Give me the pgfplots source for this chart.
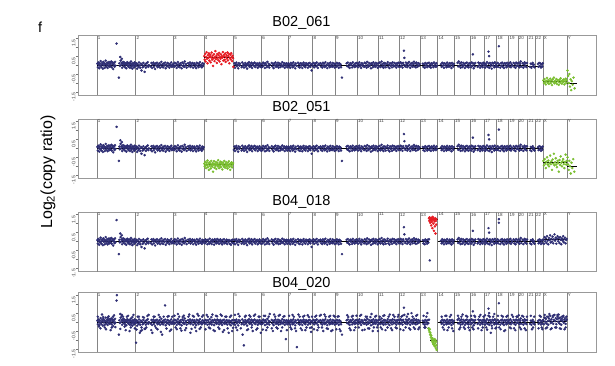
\documentclass[border=0pt]{standalone}
\usepackage{fontspec}
\setmainfont{Liberation Sans}
\usepackage{pgfplots}
\usepackage{pgfplotstable}
\pgfplotsset{compat=1.18}
\definecolor{navy}{RGB}{46,46,116}
\definecolor{cred}{RGB}{230,28,36}
\definecolor{cgreen}{RGB}{122,190,48}

% autosomes (except chr4 and the end of chr13), shared probe profile
\pgfplotstableread[row sep=\\]{
x y\\
2 0.08\\ 5 -0.12\\ 8 0.15\\ 11 0.02\\ 14 -0.18\\ 17 0.1\\ 20 -0.05\\ 23 0.22\\ 26 0.0\\ 29 -0.12\\ 32 0.12\\ 35 0.05\\ 38 -0.2\\ 41 0.18\\ 44 -0.02\\ 47 0.1\\ 50 -0.15\\ 53 0.06\\ 56 0.25\\ 59 -0.08\\ 62 0.03\\ 65 0.14\\ 68 -0.16\\ 71 0.09\\ 74 -0.04\\ 77 0.17\\ 80 -0.1\\ 83 0.04\\ 86 0.12\\ 89 -0.07\\ 92 0.2\\ 95 -0.12\\ 98 0.06\\ 101 0.15\\ 104 -0.22\\ 107 0.01\\ 110 0.11\\ 113 -0.09\\ 116 0.18\\ 119 -0.03\\
126 1.2\\ 141 -0.7\\
144 0.1\\ 147 -0.05\\ 150 0.45\\ 152 0.25\\ 155 0.0\\ 158 0.12\\ 160 0.35\\ 162 -0.15\\ 165 0.08\\ 168 0.18\\ 171 -0.06\\ 174 0.04\\ 177 0.14\\ 180 -0.12\\ 183 0.02\\ 186 0.1\\ 189 -0.18\\ 192 0.06\\ 195 0.16\\ 198 -0.04\\ 201 0.08\\ 204 -0.1\\ 207 0.13\\ 210 0.0\\ 213 -0.15\\ 216 0.09\\ 219 0.2\\ 222 -0.08\\ 225 0.03\\ 228 -0.2\\ 231 0.11\\ 234 -0.03\\ 237 0.07\\ 240 -0.13\\ 243 0.15\\ 246 -0.06\\ 248 0.02\\
251 -0.05\\ 255 0.1\\ 259 -0.2\\ 263 0.04\\ 267 -0.1\\ 271 0.15\\ 275 -0.02\\ 279 -0.15\\ 283 0.08\\ 287 -0.3\\ 291 0.02\\ 295 -0.12\\ 299 0.12\\ 303 -0.06\\ 307 -0.38\\ 311 0.05\\ 315 -0.14\\ 319 0.1\\ 323 -0.04\\ 327 0.16\\ 331 -0.1\\ 335 0.0\\
347 -0.08\\ 351 0.12\\ 355 -0.16\\ 359 0.03\\ 363 0.14\\ 367 -0.1\\ 371 0.06\\ 375 -0.22\\ 379 0.09\\ 383 -0.03\\ 387 0.13\\ 391 -0.12\\ 395 0.04\\ 399 -0.07\\ 403 0.11\\ 407 -0.15\\ 411 0.02\\ 415 0.18\\ 419 -0.09\\ 423 0.05\\ 427 -0.13\\ 431 0.1\\ 435 -0.02\\ 439 0.14\\ 443 -0.18\\ 447 0.03\\ 451 -0.08\\ 455 0.12\\ 459 -0.05\\ 463 0.08\\ 467 -0.14\\ 471 0.06\\ 475 -0.03\\ 479 0.15\\ 483 -0.1\\ 487 0.02\\ 490 -0.06\\
494 0.06\\ 498 -0.1\\ 502 0.13\\ 506 -0.04\\ 510 0.09\\ 514 -0.16\\ 518 0.02\\ 522 0.17\\ 526 -0.08\\ 530 0.05\\ 534 -0.12\\ 538 0.1\\ 542 0.0\\ 546 -0.18\\ 550 0.14\\ 554 -0.05\\ 558 0.08\\ 562 -0.1\\ 566 0.2\\ 570 -0.02\\ 574 0.06\\ 578 -0.14\\
588 0.11\\ 592 -0.07\\ 596 0.03\\ 600 0.15\\ 604 -0.11\\ 608 0.07\\ 612 -0.03\\ 616 0.12\\ 620 -0.15\\ 624 0.05\\ 628 0.1\\ 632 -0.08\\ 636 0.02\\ 640 -0.17\\ 644 0.13\\ 648 -0.04\\ 652 0.09\\ 656 -0.12\\ 660 0.04\\ 664 0.16\\ 668 -0.06\\ 672 0.01\\ 676 -0.13\\ 680 0.1\\ 684 -0.05\\ 688 0.07\\
883 -0.08\\ 887 0.1\\ 891 -0.15\\ 895 0.04\\ 899 0.14\\ 903 -0.06\\ 907 0.02\\ 911 -0.18\\ 915 0.11\\ 919 -0.03\\ 923 0.07\\
933 -0.12\\ 937 0.15\\ 941 -0.05\\ 945 0.06\\ 949 -0.14\\ 953 0.0\\ 957 0.12\\ 961 -0.09\\ 965 0.03\\ 969 -0.2\\ 973 0.1\\ 977 -0.02\\ 981 0.16\\ 985 -0.1\\ 989 0.05\\ 993 -0.07\\ 997 0.13\\ 1001 -0.16\\ 1005 0.02\\ 1009 0.09\\ 1013 -0.04\\ 1017 0.14\\ 1021 -0.11\\ 1025 0.06\\ 1029 -0.01\\ 1033 0.1\\ 1037 -0.15\\ 1041 0.04\\ 1045 -0.06\\ 1049 0.12\\ 1053 -0.09\\ 1057 0.03\\ 1060 -0.13\\
1064 0.05\\ 1068 -0.1\\ 1072 0.14\\ 1076 -0.03\\ 1080 0.08\\ 1084 -0.16\\ 1088 0.11\\ 1092 0.0\\ 1096 -0.12\\ 1100 0.18\\ 1104 -0.05\\ 1108 0.07\\ 1112 -0.14\\ 1116 0.03\\
1128 0.12\\ 1132 -0.08\\ 1136 0.05\\ 1140 -0.17\\ 1144 0.1\\ 1148 -0.02\\ 1152 0.15\\ 1156 -0.1\\ 1160 0.04\\ 1164 -0.06\\ 1168 0.13\\ 1172 -0.14\\ 1176 0.02\\ 1180 0.09\\ 1184 -0.11\\ 1188 0.06\\ 1192 -0.03\\ 1196 0.16\\ 1200 -0.08\\ 1204 0.01\\ 1208 0.11\\ 1212 -0.15\\ 1216 0.07\\ 1220 -0.04\\ 1224 0.1\\ 1228 -0.12\\ 1231 0.03\\
1235 0.1\\ 1239 -0.08\\ 1243 0.04\\ 1247 -0.15\\ 1251 0.12\\ 1255 -0.02\\ 1259 0.07\\ 1263 -0.12\\ 1267 0.15\\ 1271 -0.05\\ 1275 0.02\\ 1279 -0.18\\ 1283 0.09\\ 1287 -0.04\\
1297 0.13\\ 1301 -0.1\\ 1305 0.05\\ 1309 -0.14\\ 1313 0.1\\ 1317 -0.03\\ 1321 0.08\\ 1325 -0.16\\ 1329 0.02\\ 1333 0.14\\ 1337 -0.07\\ 1341 0.04\\ 1345 -0.12\\ 1349 0.11\\ 1353 -0.01\\ 1357 0.06\\ 1361 -0.15\\ 1365 0.09\\ 1369 -0.06\\ 1373 0.12\\ 1377 -0.1\\ 1381 0.03\\ 1385 -0.3\\ 1389 0.07\\
1394 -0.05\\ 1398 0.12\\ 1402 -0.13\\ 1406 0.04\\ 1410 0.09\\ 1414 -0.08\\ 1418 0.15\\ 1422 -0.02\\ 1426 -0.16\\ 1430 0.07\\ 1434 0.01\\
1442 0.11\\ 1446 -0.09\\ 1450 0.05\\ 1454 -0.14\\ 1458 0.13\\ 1462 -0.04\\ 1466 0.08\\ 1470 -0.11\\ 1474 0.16\\ 1478 -0.06\\ 1482 0.02\\ 1486 -0.17\\ 1490 0.1\\ 1494 -0.03\\ 1498 0.06\\ 1502 -0.12\\ 1506 0.14\\ 1510 -0.07\\ 1514 0.03\\ 1518 -0.1\\ 1522 0.12\\ 1526 -0.05\\ 1530 0.08\\ 1534 -0.14\\ 1537 0.04\\
1540 0.06\\ 1544 -0.1\\ 1548 0.13\\ 1552 -0.04\\ 1556 0.08\\ 1560 -0.15\\ 1564 0.1\\ 1568 -0.02\\ 1572 0.05\\ 1575 -0.12\\ 1581 -0.7\\
1611 0.1\\ 1615 -0.06\\ 1619 0.14\\ 1623 -0.1\\ 1627 0.03\\ 1631 -0.16\\ 1635 0.11\\ 1639 -0.01\\ 1643 0.07\\ 1647 -0.13\\ 1651 0.15\\ 1655 -0.05\\ 1659 0.02\\ 1663 -0.11\\ 1667 0.09\\ 1671 -0.07\\ 1675 0.12\\ 1678 -0.03\\
1681 0.08\\ 1685 -0.12\\ 1689 0.04\\ 1693 0.15\\ 1697 -0.07\\ 1701 0.02\\ 1705 -0.16\\ 1709 0.11\\ 1713 -0.03\\ 1716 0.06\\
1724 -0.1\\ 1728 0.13\\ 1732 -0.05\\ 1736 0.09\\ 1740 -0.14\\ 1744 0.18\\ 1748 0.0\\ 1752 -0.09\\ 1756 0.12\\ 1760 -0.04\\ 1764 0.07\\ 1768 -0.18\\ 1772 0.1\\ 1776 0.03\\ 1780 -0.12\\ 1784 0.15\\ 1788 -0.06\\ 1792 0.05\\ 1796 -0.1\\ 1800 0.13\\ 1804 -0.02\\ 1808 0.08\\ 1812 -0.15\\
1817 0.1\\ 1821 -0.06\\ 1825 0.14\\ 1829 -0.11\\ 1833 0.04\\ 1837 0.2\\ 1841 -0.08\\ 1845 0.07\\ 1849 -0.15\\ 1853 0.12\\ 1857 -0.02\\ 1861 0.09\\ 1864 -0.12\\
1872 0.05\\ 1876 0.16\\ 1880 -0.1\\ 1884 0.03\\ 1888 -0.17\\ 1892 0.11\\ 1896 -0.04\\ 1900 0.08\\ 1904 -0.13\\ 1908 0.15\\ 1912 0.0\\ 1916 -0.08\\ 1920 0.12\\ 1924 -0.05\\ 1928 0.06\\ 1932 -0.14\\ 1936 0.1\\ 1940 -0.02\\ 1944 0.13\\ 1948 -0.09\\
1952 0.07\\ 1956 -0.1\\ 1960 0.15\\ 1964 -0.04\\ 1968 0.09\\ 1972 -0.14\\ 1976 0.12\\ 1980 0.02\\ 1981 0.8\\ 1984 0.4\\
1990 -0.08\\ 1994 0.14\\ 1998 0.03\\ 2002 -0.12\\ 2006 0.1\\ 2010 -0.05\\ 2014 0.17\\ 2018 0.0\\ 2022 -0.15\\ 2026 0.08\\ 2030 -0.03\\ 2034 0.12\\ 2038 -0.1\\ 2042 0.05\\ 2046 0.19\\ 2050 -0.07\\ 2054 0.1\\ 2058 -0.13\\ 2062 0.14\\ 2066 0.02\\ 2070 -0.09\\ 2074 0.11\\ 2078 -0.04\\ 2082 0.06\\
2103 0.08\\ 2107 -0.1\\ 2111 0.05\\ 2115 -0.15\\ 2119 0.12\\ 2123 -0.03\\ 2127 0.07\\ 2131 -0.12\\ 2135 0.1\\ 2139 -0.06\\ 2143 0.13\\
2220 0.05\\ 2224 -0.1\\ 2228 0.13\\ 2232 -0.04\\ 2236 0.08\\ 2240 -0.15\\ 2244 0.1\\ 2248 -0.02\\ 2252 0.06\\ 2256 -0.12\\ 2260 0.14\\ 2264 -0.07\\ 2268 0.03\\ 2272 -0.1\\ 2276 0.11\\ 2280 -0.05\\ 2284 0.08\\ 2288 -0.16\\ 2292 0.12\\ 2296 0.0\\ 2300 -0.08\\ 2304 0.07\\
2327 0.12\\ 2331 -0.08\\ 2335 0.2\\ 2339 -0.05\\ 2343 0.09\\ 2347 -0.14\\ 2351 0.15\\ 2355 0.02\\ 2359 -0.11\\ 2363 0.13\\ 2367 -0.03\\ 2371 0.07\\ 2375 -0.16\\ 2379 0.1\\ 2383 -0.06\\ 2387 0.14\\ 2391 -0.1\\ 2395 0.04\\ 2399 -0.13\\ 2403 0.11\\ 2407 -0.02\\
2411 0.08\\ 2415 -0.12\\ 2419 0.15\\ 2423 -0.04\\ 2426 0.6\\ 2427 0.1\\ 2431 -0.18\\ 2435 0.06\\ 2439 -0.08\\ 2442 0.12\\
2457 -0.1\\ 2461 0.14\\ 2465 -0.03\\ 2469 0.09\\ 2473 -0.15\\ 2477 0.11\\ 2481 -0.06\\ 2485 0.05\\ 2489 -0.12\\ 2493 0.13\\ 2497 -0.02\\
2501 0.1\\ 2505 -0.14\\ 2509 0.06\\ 2513 -0.05\\ 2517 0.16\\ 2521 -0.1\\ 2527 0.75\\ 2528 0.08\\ 2531 0.5\\ 2532 -0.15\\ 2536 0.12\\ 2540 -0.06\\ 2544 0.04\\ 2548 -0.2\\ 2552 0.13\\ 2556 -0.03\\ 2560 0.09\\ 2564 -0.12\\ 2568 0.15\\ 2572 -0.07\\ 2576 0.05\\ 2579 -0.1\\
2582 -0.06\\ 2586 0.12\\ 2590 -0.1\\ 2594 1.05\\ 2595 0.05\\ 2603 -0.14\\ 2607 0.1\\ 2611 -0.03\\ 2615 0.14\\ 2619 -0.09\\ 2623 0.06\\ 2627 -0.16\\ 2631 0.11\\ 2635 -0.02\\ 2639 0.08\\ 2643 -0.12\\ 2647 0.13\\ 2651 -0.05\\ 2655 0.04\\
2660 0.1\\ 2664 -0.08\\ 2668 0.15\\ 2672 -0.12\\ 2676 0.05\\ 2680 -0.03\\ 2689 0.12\\ 2693 -0.1\\ 2697 0.06\\ 2701 -0.15\\ 2705 0.14\\ 2709 -0.04\\ 2713 0.09\\
2719 -0.05\\ 2723 0.13\\ 2727 -0.12\\ 2731 0.07\\ 2735 0.2\\ 2739 -0.08\\ 2748 0.1\\ 2752 -0.14\\ 2756 0.04\\ 2760 0.15\\ 2764 -0.06\\ 2768 0.09\\ 2772 -0.11\\ 2776 0.12\\
2796 -0.1\\ 2800 0.08\\ 2804 -0.15\\ 2808 0.05\\ 2812 0.12\\ 2816 -0.06\\ 2820 0.03\\ 2824 -0.12\\
2846 0.06\\ 2850 -0.1\\ 2854 0.12\\ 2858 -0.05\\ 2862 0.09\\ 2866 -0.14\\ 2870 0.04\\ 2874 -0.08\\ 2877 0.1\\
}\tA

% end of chr13, normal
\pgfplotstableread[row sep=\\]{
x y\\
2147 -0.09\\ 2151 0.04\\ 2155 -0.14\\ 2159 0.1\\ 2163 -0.02\\ 2167 0.08\\ 2171 -0.12\\ 2175 0.15\\ 2179 -0.05\\ 2183 0.06\\ 2187 -0.1\\ 2191 0.11\\ 2195 -0.03\\
}\tAt

% chr4 normal
\pgfplotstableread[row sep=\\]{
x y\\
692 0.05\\ 696 -0.1\\ 700 0.12\\ 704 -0.04\\ 708 0.08\\ 712 -0.15\\ 716 0.1\\ 720 0.0\\ 724 -0.12\\ 728 0.16\\ 732 -0.06\\ 736 0.04\\ 740 -0.14\\ 744 0.11\\ 748 -0.02\\ 752 0.07\\ 756 -0.17\\ 760 0.13\\ 764 -0.05\\ 768 0.06\\ 772 -0.1\\ 776 0.14\\ 780 -0.03\\ 784 0.09\\ 788 -0.13\\ 792 0.02\\ 796 0.12\\ 800 -0.08\\ 804 0.05\\ 808 -0.16\\ 812 0.1\\ 816 -0.04\\ 820 0.13\\ 824 -0.1\\ 828 0.03\\ 832 -0.07\\ 836 0.11\\ 840 -0.14\\ 844 0.06\\ 848 -0.02\\ 852 0.09\\ 856 -0.12\\ 860 0.04\\ 864 -0.18\\ 868 0.08\\ 872 -0.06\\ 876 0.1\\ 880 -0.1\\
}\tFour

% B02_061 chr4 gain
\pgfplotstableread[row sep=\\]{
x y\\
692 0.5\\ 695 0.3\\ 698 0.62\\ 701 0.2\\ 704 0.45\\ 707 0.72\\ 710 0.35\\ 713 0.1\\ 716 0.55\\ 719 0.4\\ 722 0.65\\ 725 0.25\\ 728 0.48\\ 731 0.58\\ 734 0.15\\ 737 0.42\\ 740 0.7\\ 743 0.3\\ 746 0.52\\ 749 -0.05\\ 752 0.38\\ 755 0.6\\ 758 0.22\\ 761 0.45\\ 764 0.78\\ 767 0.33\\ 770 0.5\\ 773 0.12\\ 776 0.62\\ 779 0.4\\ 782 0.28\\ 785 0.55\\ 788 0.68\\ 791 0.2\\ 794 0.45\\ 797 0.35\\ 800 0.6\\ 803 0.05\\ 806 0.5\\ 809 0.42\\ 812 0.72\\ 815 0.25\\ 818 0.48\\ 821 0.58\\ 824 0.3\\ 827 0.65\\ 830 0.18\\ 833 0.44\\ 836 0.55\\ 839 0.36\\ 842 0.7\\ 845 0.26\\ 848 0.5\\ 851 0.62\\ 854 0.1\\ 857 0.4\\ 860 0.58\\ 863 0.32\\ 866 0.66\\ 869 0.45\\ 872 0.22\\ 875 0.52\\ 878 0.38\\ 880 -0.1\\
}\tRa

% B02_051 chr4 loss
\pgfplotstableread[row sep=\\]{
x y\\
692 -0.85\\ 695 -1.0\\ 698 -0.75\\ 701 -0.92\\ 704 -1.1\\ 707 -0.8\\ 710 -0.95\\ 713 -0.68\\ 716 -1.05\\ 719 -0.88\\ 722 -1.2\\ 725 -0.78\\ 728 -0.98\\ 731 -0.85\\ 734 -1.12\\ 737 -0.7\\ 740 -0.93\\ 743 -1.02\\ 746 -0.82\\ 749 -1.3\\ 752 -0.9\\ 755 -0.72\\ 758 -1.08\\ 761 -0.86\\ 764 -0.97\\ 767 -0.76\\ 770 -1.15\\ 773 -0.9\\ 776 -0.8\\ 779 -1.0\\ 782 -0.66\\ 785 -0.94\\ 788 -1.1\\ 791 -0.84\\ 794 -0.99\\ 797 -0.74\\ 800 -1.05\\ 803 -0.88\\ 806 -0.78\\ 809 -1.18\\ 812 -0.92\\ 815 -0.82\\ 818 -1.02\\ 821 -0.7\\ 824 -0.96\\ 827 -1.08\\ 830 -0.86\\ 833 -0.76\\ 836 -1.0\\ 839 -0.9\\ 842 -1.12\\ 845 -0.8\\ 848 -0.95\\ 851 -0.72\\ 854 -1.04\\ 857 -0.88\\ 860 -1.2\\ 863 -0.84\\ 866 -0.98\\ 869 -0.78\\ 872 -1.06\\ 875 -0.9\\ 878 -0.82\\
}\tGb

% X and Y, B02_061
\pgfplotstableread[row sep=\\]{
x y\\
2881 -0.85\\ 2885 -1.0\\ 2889 -0.78\\ 2893 -0.95\\ 2897 -1.08\\ 2901 -0.88\\ 2905 -0.72\\ 2909 -0.98\\ 2913 -0.84\\ 2917 -1.05\\ 2921 -0.9\\ 2925 -0.76\\ 2929 -1.0\\ 2933 -0.86\\ 2937 -1.12\\ 2941 -0.8\\ 2945 -0.94\\ 2949 -0.7\\ 2953 -1.02\\ 2957 -0.88\\ 2961 -0.96\\ 2965 -0.78\\ 2969 -1.06\\ 2973 -0.84\\ 2977 -0.92\\ 2981 -1.1\\ 2985 -0.82\\ 2989 -0.98\\ 2993 -0.74\\ 2997 -0.9\\ 3001 -1.04\\ 3005 -0.86\\ 3009 -0.95\\ 3013 -0.8\\ 3017 -1.08\\ 3021 -0.9\\ 3025 -0.76\\ 3029 -1.0\\ 3032 -0.85\\
3037 -0.3\\ 3041 -0.6\\ 3045 -1.0\\ 3049 -0.5\\ 3053 -1.2\\ 3057 -0.8\\ 3061 -1.4\\ 3065 -0.9\\ 3070 -1.1\\ 3076 -0.7\\ 3083 -1.3\\
}\tXa

% X and Y, B02_051
\pgfplotstableread[row sep=\\]{
x y\\
2881 -0.7\\ 2885 -0.95\\ 2889 -0.6\\ 2893 -0.85\\ 2897 -1.1\\ 2901 -0.75\\ 2905 -0.5\\ 2909 -0.9\\ 2913 -0.68\\ 2917 -1.0\\ 2921 -0.82\\ 2925 -0.4\\ 2929 -0.88\\ 2933 -0.72\\ 2937 -1.2\\ 2941 -0.62\\ 2945 -0.85\\ 2949 -0.3\\ 2953 -0.95\\ 2957 -0.78\\ 2961 -0.55\\ 2965 -0.9\\ 2969 -1.05\\ 2973 -0.7\\ 2977 -0.82\\ 2981 -1.3\\ 2985 -0.65\\ 2989 -0.92\\ 2993 -0.45\\ 2997 -0.8\\ 3001 -1.0\\ 3005 -0.72\\ 3009 -0.6\\ 3013 -0.88\\ 3017 -1.1\\ 3021 -0.76\\ 3025 -0.35\\ 3029 -0.9\\ 3032 -0.7\\
3037 -0.5\\ 3041 -0.9\\ 3045 -1.2\\ 3049 -0.7\\ 3053 -1.0\\ 3058 -1.4\\ 3063 -0.8\\ 3068 -1.1\\ 3074 -0.6\\ 3081 -1.3\\
}\tXb

% X normal, B04
\pgfplotstableread[row sep=\\]{
x y\\
2881 0.1\\ 2885 -0.12\\ 2889 0.25\\ 2893 0.02\\ 2897 0.18\\ 2901 -0.08\\ 2905 0.3\\ 2909 0.05\\ 2913 -0.15\\ 2917 0.2\\ 2921 0.08\\ 2925 0.35\\ 2929 -0.05\\ 2933 0.15\\ 2937 0.0\\ 2941 0.28\\ 2945 -0.1\\ 2949 0.12\\ 2953 0.4\\ 2957 0.05\\ 2961 0.22\\ 2965 -0.12\\ 2969 0.16\\ 2973 0.3\\ 2977 0.02\\ 2981 0.2\\ 2985 -0.08\\ 2989 0.25\\ 2993 0.1\\ 2997 -0.15\\ 3001 0.18\\ 3005 0.06\\ 3009 0.3\\ 3013 -0.04\\ 3017 0.14\\ 3021 0.22\\ 3025 -0.1\\ 3029 0.08\\ 3032 0.15\\
}\tXc

% B04_018 chr13 gain
\pgfplotstableread[row sep=\\]{
x y\\
2143 1.3\\ 2145 1.15\\ 2147 1.35\\ 2149 1.2\\ 2151 1.05\\ 2153 1.28\\ 2155 1.18\\ 2157 0.9\\ 2159 1.32\\ 2161 1.1\\ 2163 1.25\\ 2165 0.75\\ 2167 1.38\\ 2169 1.2\\ 2171 1.0\\ 2173 1.3\\ 2175 0.6\\ 2177 1.22\\ 2179 1.12\\ 2181 0.85\\ 2183 1.3\\ 2185 0.45\\ 2187 1.15\\ 2189 0.95\\ 2191 1.25\\
}\tRc

\pgfplotstableread[row sep=\\]{
x y\\
2148 -1.05\\ 2594 1.25\\
}\tCx

% B04_020 extra scatter
\pgfplotstableread[row sep=\\]{
x y\\
5 0.3\\ 22 -0.35\\ 40 0.28\\ 58 -0.4\\ 75 0.32\\ 95 -0.3\\ 110 0.38\\ 128 1.5\\ 150 -0.38\\ 168 0.3\\ 185 -0.45\\ 200 0.35\\ 218 -0.3\\ 235 0.4\\
252 -1.15\\ 255 -0.42\\ 270 0.3\\ 282 -0.5\\ 296 0.28\\ 310 -0.38\\ 325 0.34\\ 350 -0.45\\ 365 0.3\\ 380 -0.32\\ 398 0.4\\ 412 -0.55\\ 430 0.3\\ 439 0.93\\ 448 -0.36\\ 462 0.33\\ 478 -0.42\\
500 0.35\\ 515 -0.4\\ 530 0.3\\ 545 -0.48\\ 560 0.36\\ 575 -0.34\\ 595 0.42\\ 610 -0.38\\ 625 0.3\\ 640 -0.5\\ 655 0.35\\ 670 -0.3\\ 685 0.38\\
700 -0.4\\ 715 0.3\\ 730 -0.35\\ 745 0.42\\ 760 -0.5\\ 775 0.32\\ 790 -0.38\\ 805 0.35\\ 820 -0.45\\ 835 0.3\\ 850 -0.6\\ 865 0.36\\ 878 -0.32\\
890 0.4\\ 905 -0.45\\ 920 0.32\\ 940 -0.7\\ 948 -1.3\\ 960 0.35\\ 975 -0.4\\ 990 0.3\\ 1005 -0.5\\ 1020 0.42\\ 1035 -0.35\\ 1050 0.3\\
1070 -0.42\\ 1085 0.35\\ 1100 -0.3\\ 1115 0.45\\ 1135 -0.5\\ 1150 0.3\\ 1165 -0.36\\ 1180 0.4\\ 1195 -0.3\\ 1210 0.33\\ 1219 -0.95\\ 1225 -0.45\\
1240 0.35\\ 1255 -0.4\\ 1270 0.3\\ 1285 -0.5\\ 1290 -1.4\\ 1300 0.42\\ 1315 -0.35\\ 1330 0.3\\ 1345 -0.45\\ 1360 0.38\\ 1375 -0.32\\ 1388 0.3\\
1400 -0.4\\ 1415 0.36\\ 1430 -0.3\\ 1445 0.4\\ 1460 -0.5\\ 1475 0.3\\ 1490 -0.38\\ 1505 0.35\\ 1520 -0.45\\ 1535 0.3\\
1545 -0.4\\ 1560 0.32\\ 1572 -0.5\\ 1615 0.38\\ 1630 -0.35\\ 1645 0.3\\ 1660 -0.45\\ 1675 0.35\\
1690 -0.3\\ 1705 0.4\\ 1728 -0.42\\ 1742 0.3\\ 1757 -0.36\\ 1772 0.45\\ 1787 -0.3\\ 1802 0.35\\ 1813 -0.5\\
1825 0.3\\ 1840 -0.4\\ 1855 0.38\\ 1875 -0.3\\ 1890 0.42\\ 1905 -0.45\\ 1920 0.3\\ 1935 -0.35\\ 1946 0.4\\
1958 -0.4\\ 1972 0.35\\ 1992 -0.3\\ 2007 0.45\\ 2022 -0.42\\ 2037 0.3\\ 2052 -0.38\\ 2067 0.4\\ 2080 -0.3\\
2108 0.35\\ 2120 -0.3\\ 2132 0.5\\ 2140 -0.35\\
2225 0.3\\ 2240 -0.42\\ 2255 0.35\\ 2270 -0.3\\ 2285 0.4\\ 2300 -0.5\\
2330 0.35\\ 2345 -0.3\\ 2360 0.42\\ 2375 -0.38\\ 2390 0.3\\ 2405 -0.45\\
2415 0.35\\ 2430 -0.4\\ 2440 0.3\\ 2460 -0.35\\ 2475 0.4\\ 2490 -0.3\\
2505 0.38\\ 2518 -0.42\\ 2535 0.3\\ 2550 -0.35\\ 2565 0.45\\ 2577 -0.3\\
2588 0.35\\ 2605 -0.4\\ 2620 0.3\\ 2635 -0.45\\ 2650 0.35\\
2665 -0.3\\ 2678 0.4\\ 2692 -0.35\\ 2708 0.3\\
2722 0.38\\ 2737 -0.4\\ 2752 0.3\\ 2768 -0.45\\
2800 0.35\\ 2815 -0.3\\ 2850 -0.35\\ 2865 0.3\\ 2875 -0.4\\
2890 0.4\\ 2905 -0.3\\ 2920 0.45\\ 2935 -0.35\\ 2950 0.38\\ 2965 -0.3\\ 2980 0.42\\ 2995 -0.38\\ 3010 0.35\\ 3025 -0.3\\
}\tD

\pgfplotstableread[row sep=\\]{
x y\\
12 -0.25\\ 32 0.42\\ 50 -0.3\\ 68 0.25\\ 88 -0.45\\ 103 0.3\\ 118 -0.28\\ 160 0.4\\ 178 -0.25\\ 193 0.3\\ 210 -0.5\\ 228 0.28\\ 244 -0.35\\
262 0.3\\ 276 -0.6\\ 290 -0.45\\ 303 0.25\\ 318 -0.3\\ 333 0.4\\ 357 -0.6\\ 372 0.3\\ 390 -0.4\\ 405 0.28\\ 420 -0.7\\ 455 0.3\\ 470 -0.5\\ 485 0.3\\
507 -0.3\\ 522 0.45\\ 538 -0.35\\ 553 0.28\\ 568 -0.45\\ 590 0.3\\ 603 -0.6\\ 618 0.35\\ 633 -0.3\\ 648 0.45\\ 662 -0.38\\ 678 0.3\\
708 0.4\\ 722 -0.3\\ 738 0.28\\ 752 -0.45\\ 768 0.35\\ 783 -0.3\\ 798 0.42\\ 812 -0.55\\ 828 0.3\\ 843 -0.35\\ 858 0.28\\ 872 -0.5\\
897 -0.3\\ 912 0.45\\ 928 -0.35\\ 955 0.3\\ 968 -0.45\\ 983 0.38\\ 998 -0.3\\ 1013 0.35\\ 1028 -0.42\\ 1043 0.3\\ 1057 -0.6\\
1077 0.35\\ 1092 -0.45\\ 1108 0.3\\ 1128 -0.35\\ 1143 0.42\\ 1158 -0.3\\ 1173 0.35\\ 1188 -0.5\\ 1203 0.3\\
1248 -0.3\\ 1262 0.4\\ 1278 -0.35\\ 1308 0.3\\ 1323 -0.45\\ 1338 0.35\\ 1352 -0.3\\ 1368 0.28\\ 1382 -0.55\\
1408 0.3\\ 1422 -0.45\\ 1438 0.35\\ 1452 -0.3\\ 1468 0.42\\ 1483 -0.35\\ 1498 0.3\\ 1512 -0.5\\ 1528 0.35\\
1553 0.3\\ 1566 -0.4\\ 1622 0.28\\ 1637 -0.45\\ 1652 0.35\\ 1668 -0.3\\
1698 0.35\\ 1713 -0.45\\ 1735 0.3\\ 1750 -0.35\\ 1765 0.28\\ 1780 -0.5\\ 1795 0.3\\ 1808 -0.3\\
1832 -0.3\\ 1848 0.35\\ 1862 -0.45\\ 1882 0.3\\ 1898 -0.35\\ 1912 0.4\\ 1928 -0.3\\ 1942 0.3\\
1965 0.3\\ 1978 -0.45\\ 2000 0.3\\ 2015 -0.35\\ 2030 0.5\\ 2045 -0.3\\ 2060 0.35\\ 2074 -0.4\\
2114 -0.3\\ 2126 0.3\\
2232 -0.3\\ 2248 0.35\\ 2262 -0.45\\ 2278 0.3\\ 2292 -0.35\\
2338 -0.4\\ 2352 0.3\\ 2368 -0.3\\ 2382 0.35\\ 2398 -0.3\\
2422 -0.3\\ 2436 0.35\\ 2468 0.3\\ 2482 -0.45\\ 2495 0.3\\
2512 -0.3\\ 2527 0.35\\ 2542 -0.6\\ 2557 0.3\\ 2572 -0.35\\
2596 -0.3\\ 2612 0.35\\ 2628 -0.5\\ 2643 0.3\\
2672 -0.35\\ 2685 0.3\\ 2700 -0.45\\ 2713 0.3\\
2729 -0.3\\ 2744 0.35\\ 2760 -0.35\\ 2775 0.3\\
2808 -0.4\\ 2822 0.3\\ 2858 0.35\\ 2870 -0.3\\
2897 -0.35\\ 2912 0.3\\ 2928 -0.4\\ 2942 0.35\\ 2958 -0.3\\ 2972 0.4\\ 2988 -0.35\\ 3002 0.3\\ 3018 -0.4\\ 3030 0.3\\
}\tDb

% B04_020 chr13 loss
\pgfplotstableread[row sep=\\]{
x y\\
2140 -0.35\\ 2143 -0.45\\ 2146 -0.55\\ 2148 -0.4\\ 2150 -0.7\\ 2152 -0.6\\ 2155 -0.85\\ 2157 -0.75\\ 2160 -0.95\\ 2162 -1.05\\ 2165 -0.9\\ 2167 -1.15\\ 2170 -1.0\\ 2172 -1.25\\ 2175 -1.1\\ 2177 -0.95\\ 2180 -1.35\\ 2182 -1.2\\ 2183 -0.98\\ 2185 -1.05\\ 2187 -1.45\\ 2188 -1.1\\ 2190 -1.3\\ 2192 -1.55\\
}\tGd

\pgfplotsset{
  cnv/.style={
    scale only axis, width=518pt, height=59.5pt,
    xmin=-123, xmax=3221, ymin=-1.67, ymax=1.65,
    xtick=\empty,
    extra x ticks={0,249,492,690,881,1062,1233,1392,1538,1679,1815,1950,2084,2199,2306,2409,2499,2580,2658,2717,2780,2828,2879,3034},
    extra x tick labels={},
    extra x tick style={grid=major, major grid style={draw=black!48, line width=0.6pt}, major tick length=0pt},
    ytick={-1.5,-0.5,0.5,1.5}, minor ytick={-1,0,1},
    /pgf/number format/assume math mode=true,
    /pgf/number format/fixed, /pgf/number format/precision=1, /pgf/number format/fixed zerofill,
    tick align=outside, ytick pos=left,
    major tick length=2.5pt, minor tick length=2.5pt,
    every tick/.style={draw=black!55, line width=0.4pt},
    axis line style={draw=black!40, line width=0.6pt},
    yticklabel style={rotate=90, anchor=south, font=\fontsize{5}{5}\selectfont, inner sep=0pt, xshift=-5pt, text=black!75},
  },
  pts/.style={only marks, mark=*, mark size=1.05pt, mark options={draw=none}},
  seg/.style={black, line width=0.8pt, no marks},
}
\tikzset{chl/.style={anchor=north west, font=\fontsize{4.5}{4.5}\selectfont, inner sep=0.7pt, text=black!75}}
\newcommand\chrlab{%
  \node[chl] at (axis cs:0,1.65) {1};
  \node[chl] at (axis cs:249,1.65) {2};
  \node[chl] at (axis cs:492,1.65) {3};
  \node[chl] at (axis cs:690,1.65) {4};
  \node[chl] at (axis cs:881,1.65) {5};
  \node[chl] at (axis cs:1062,1.65) {6};
  \node[chl] at (axis cs:1233,1.65) {7};
  \node[chl] at (axis cs:1392,1.65) {8};
  \node[chl] at (axis cs:1538,1.65) {9};
  \node[chl] at (axis cs:1679,1.65) {10};
  \node[chl] at (axis cs:1815,1.65) {11};
  \node[chl] at (axis cs:1950,1.65) {12};
  \node[chl] at (axis cs:2084,1.65) {13};
  \node[chl] at (axis cs:2199,1.65) {14};
  \node[chl] at (axis cs:2306,1.65) {15};
  \node[chl] at (axis cs:2409,1.65) {16};
  \node[chl] at (axis cs:2499,1.65) {17};
  \node[chl] at (axis cs:2580,1.65) {18};
  \node[chl] at (axis cs:2658,1.65) {19};
  \node[chl] at (axis cs:2717,1.65) {20};
  \node[chl] at (axis cs:2780,1.65) {21};
  \node[chl] at (axis cs:2828,1.65) {22};
  \node[chl] at (axis cs:2879,1.65) {X};
  \node[chl] at (axis cs:3034,1.65) {Y};
}

\begin{document}
\begin{tikzpicture}
\path[use as bounding box] (0pt,0pt) rectangle (615pt,365pt);

% ---------- B02_061 ----------
\begin{axis}[cnv, at={(78pt,270pt)}, anchor=south west]
\chrlab
\addplot[pts, navy] table[x=x,y=y] {\tA};
\addplot[pts, navy] table[x=x,y=y] {\tAt};
\addplot[pts, cred] table[x=x,y=y] {\tRa};
\addplot[pts, cgreen] table[x=x,y=y] {\tXa};
\addplot[seg] coordinates {(0,0.0) (690,0.0)};
\addplot[seg] coordinates {(690,0.43) (881,0.43)};
\addplot[seg] coordinates {(881,0.0) (2780,0.0)};
\addplot[seg] coordinates {(2780,-0.07) (2879,-0.07)};
\addplot[seg] coordinates {(2879,-0.92) (3034,-0.92)};
\addplot[seg] coordinates {(3034,-1.05) (3097,-1.05)};
\end{axis}

% ---------- B02_051 ----------
\begin{axis}[cnv, at={(78pt,186.7pt)}, anchor=south west]
\chrlab
\addplot[pts, navy] table[x=x,y=y] {\tA};
\addplot[pts, navy] table[x=x,y=y] {\tAt};
\addplot[pts, cgreen] table[x=x,y=y] {\tGb};
\addplot[pts, cgreen] table[x=x,y=y] {\tXb};
\addplot[seg] coordinates {(0,0.0) (690,0.0)};
\addplot[seg] coordinates {(690,-0.9) (881,-0.9)};
\addplot[seg] coordinates {(881,0.0) (2879,0.0)};
\addplot[seg] coordinates {(2879,-0.77) (3034,-0.77)};
\addplot[seg] coordinates {(3034,-1.0) (3097,-1.0)};
\end{axis}

% ---------- B04_018 ----------
\begin{axis}[cnv, at={(78pt,93.5pt)}, anchor=south west]
\chrlab
\addplot[pts, navy] table[x=x,y=y] {\tA};
\addplot[pts, navy] table[x=x,y=y] {\tFour};
\addplot[pts, navy] table[x=x,y=y] {\tXc};
\addplot[pts, navy] table[x=x,y=y] {\tCx};
\addplot[pts, cred] table[x=x,y=y] {\tRc};
\addplot[seg] coordinates {(0,0.0) (2143,0.0)};
\addplot[seg] coordinates {(2143,1.22) (2199,1.22)};
\addplot[seg] coordinates {(2199,0.0) (2879,0.0)};
\addplot[seg] coordinates {(2879,0.1) (3034,0.1)};
\end{axis}

% ---------- B04_020 ----------
\begin{axis}[cnv, at={(78pt,13pt)}, anchor=south west]
\chrlab
\addplot[pts, navy] table[x=x,y=y] {\tA};
\addplot[pts, navy] table[x=x,y=y] {\tFour};
\addplot[pts, navy] table[x=x,y=y] {\tXc};
\addplot[pts, navy] table[x=x,y=y] {\tD};
\addplot[pts, navy] table[x=x,y=y] {\tDb};
\addplot[pts, cgreen] table[x=x,y=y] {\tGd};
\addplot[seg] coordinates {(0,0.0) (2140,0.0)};
\addplot[seg] coordinates {(2150,-1.05) (2196,-1.05)};
\addplot[seg] coordinates {(2199,0.0) (2879,0.0)};
\addplot[seg] coordinates {(2879,0.03) (3034,0.03)};
\end{axis}

% titles and labels
\node[anchor=base, font=\fontsize{14.5}{16}\selectfont] at (301.5pt,338.3pt) {B02\_061};
\node[anchor=base, font=\fontsize{14.5}{16}\selectfont] at (301.5pt,254pt) {B02\_051};
\node[anchor=base, font=\fontsize{14.5}{16}\selectfont] at (301.5pt,160pt) {B04\_018};
\node[anchor=base, font=\fontsize{14.5}{16}\selectfont] at (301.5pt,77.7pt) {B04\_020};
\node[anchor=base west, font=\fontsize{14.5}{16}\selectfont, inner sep=0pt] at (38pt,332pt) {f};
\node[rotate=90, anchor=base, font=\fontsize{16}{18}\selectfont, inner sep=0pt] at (52pt,193pt) {Log\textsubscript{2}(copy ratio)};
\end{tikzpicture}
\end{document}
